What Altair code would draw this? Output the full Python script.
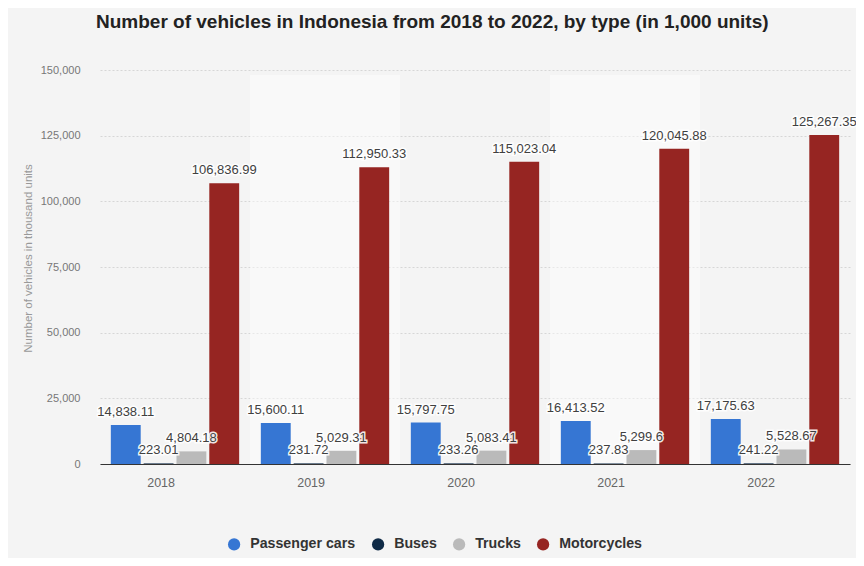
import altair as alt
import pandas as pd

years = ["2018", "2019", "2020", "2021", "2022"]
types = ["Passenger cars", "Buses", "Trucks", "Motorcycles"]
passenger = [14838.11, 15600.11, 15797.75, 16413.52, 17175.63]
buses = [223.01, 231.72, 233.26, 237.83, 241.22]
trucks = [4804.18, 5029.31, 5083.41, 5299.6, 5528.67]
motorcycles = [106836.99, 112950.33, 115023.04, 120045.88, 125267.35]
colors = ["#3676d3", "#0f2a46", "#bababa", "#962522"]
y_ticks = [0, 25000, 50000, 75000, 100000, 125000, 150000]
band_years = ["2019", "2021"]

rows = []
for t, series in zip(types, [passenger, buses, trucks, motorcycles]):
    for y, v in zip(years, series):
        rows.append({"year": y, "type": t, "value": v, "label": f"{v:,}"})
df = pd.DataFrame(rows)
bands = pd.DataFrame({"year": band_years})

x_enc = alt.X("year:N", sort=years, title=None,
              scale=alt.Scale(domain=years, paddingInner=0, paddingOuter=0),
              axis=alt.Axis(labelAngle=0, labelFontSize=12.5, labelColor="#666",
                            labelFont="Liberation Sans", ticks=False, tickSize=0,
                            labelPadding=18, domainColor="#333", domainWidth=1,
                            grid=False))
xo_enc = alt.XOffset("type:N", sort=types,
                     scale=alt.Scale(domain=types, paddingInner=0.09, paddingOuter=0.33))
y_enc = alt.Y("value:Q", title="Number of vehicles in thousand units",
              scale=alt.Scale(domain=[0, 150000], nice=False),
              axis=alt.Axis(values=y_ticks, format=",.0f", labelFontSize=11,
                            labelColor="#777", labelFont="Liberation Sans",
                            labelPadding=20, ticks=False, domain=False,
                            gridColor="#d6d6d6", gridDash=[2, 2],
                            titleFontSize=11.5, titleColor="#999",
                            titleFont="Liberation Sans", titleFontWeight="normal",
                            titleX=-72, titleY=188, titleBaseline="middle"))

band_layer = alt.Chart(bands).mark_rect(color="white", opacity=0.45).encode(
    x=alt.X("year:N", sort=years),
    y=alt.value(5), y2=alt.value(394),
)

bars = alt.Chart(df).mark_bar().encode(
    x=x_enc, xOffset=xo_enc, y=y_enc,
    color=alt.Color("type:N", sort=types,
                    scale=alt.Scale(domain=types, range=colors),
                    legend=alt.Legend(title=None, orient="none", direction="horizontal",
                                      legendX=127, legendY=467,
                                      symbolType="circle", symbolSize=150,
                                      symbolStrokeWidth=0, symbolOpacity=1,
                                      labelFontSize=14.2, labelFontWeight="bold",
                                      labelColor="#333", labelFont="Liberation Sans",
                                      labelOffset=9, columnPadding=15)),
)

halo = alt.Chart(df).mark_text(baseline="bottom", dy=-6, fontSize=13,
                               font="Liberation Sans", stroke="white",
                               strokeWidth=3, strokeOpacity=0.9, color="white").encode(
    x=alt.X("year:N", sort=years), xOffset=alt.XOffset("type:N", sort=types),
    y="value:Q", text="label:N",
)
labels = alt.Chart(df).mark_text(baseline="bottom", dy=-6, fontSize=13,
                                 font="Liberation Sans", color="#404040").encode(
    x=alt.X("year:N", sort=years), xOffset=alt.XOffset("type:N", sort=types),
    y="value:Q", text="label:N",
)

chart = alt.layer(band_layer, bars, halo, labels).properties(
    width=750, height=394,
    padding={"left": 92, "top": 62, "right": 6, "bottom": 94},
    autosize=alt.AutoSizeParams(type="none"),
    background="#f4f4f4",
    title=alt.TitleParams(
        "Number of vehicles in Indonesia from 2018 to 2022, by type (in 1,000 units)",
        fontSize=19, font="Liberation Sans", fontWeight="bold", color="#222",
        anchor="start", frame="group", dx=-4, offset=32),
).configure_view(stroke=None)

chart.save("out.html", embed_options={"renderer": "svg", "actions": False})
